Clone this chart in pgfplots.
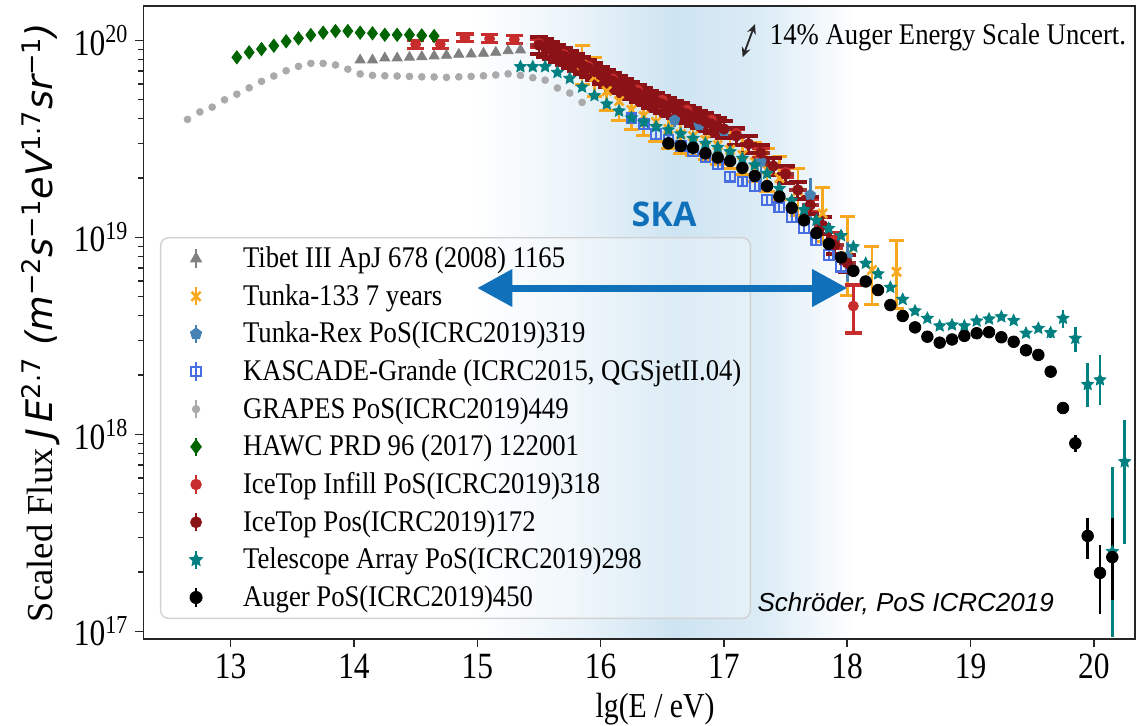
\documentclass[border=0pt]{standalone}
\usepackage{fontspec}
\setmainfont{Liberation Serif}
\newfontfamily\tickfont{Liberation Serif}[FakeStretch=0.85]
\newfontfamily\legfont{Liberation Serif}[FakeStretch=0.89]
\newfontfamily\dejavu{DejaVu Sans}
\newfontfamily\helv{Liberation Sans}
\newfontfamily\opensans{Open Sans}
\usepackage{pgfplots}
\usepackage{pgfplotstable}
\pgfplotsset{compat=1.18}
\usetikzlibrary{arrows.meta}

\definecolor{tibet}{RGB}{128,128,128}
\definecolor{tunka}{RGB}{247,168,30}
\definecolor{tunkarex}{RGB}{70,130,180}
\definecolor{kascade}{RGB}{72,110,225}
\definecolor{grapes}{RGB}{170,170,170}
\definecolor{hawc}{RGB}{0,100,0}
\definecolor{infill}{RGB}{200,45,45}
\definecolor{icetop}{RGB}{139,18,22}
\definecolor{ta}{RGB}{0,128,128}
\definecolor{skablue}{RGB}{16,112,186}
\definecolor{shade}{RGB}{206,228,242}

\pgfdeclareplotmark{fstar}{%
  \pgfpathmoveto{\pgfqpointpolar{90}{\pgfplotmarksize}}%
  \pgfpathlineto{\pgfqpointpolar{126}{0.48\pgfplotmarksize}}%
  \pgfpathlineto{\pgfqpointpolar{162}{\pgfplotmarksize}}%
  \pgfpathlineto{\pgfqpointpolar{198}{0.48\pgfplotmarksize}}%
  \pgfpathlineto{\pgfqpointpolar{234}{\pgfplotmarksize}}%
  \pgfpathlineto{\pgfqpointpolar{270}{0.48\pgfplotmarksize}}%
  \pgfpathlineto{\pgfqpointpolar{306}{\pgfplotmarksize}}%
  \pgfpathlineto{\pgfqpointpolar{342}{0.48\pgfplotmarksize}}%
  \pgfpathlineto{\pgfqpointpolar{18}{\pgfplotmarksize}}%
  \pgfpathlineto{\pgfqpointpolar{54}{0.48\pgfplotmarksize}}%
  \pgfpathclose
  \pgfusepathqfillstroke
}

\pgfplotsset{
  errleg/.style={legend image code/.code={
      \path (0pt,-6pt) (26.7pt,6pt);
      \draw[##1,sharp corners,fill opacity=1,draw opacity=1,line width=1.2pt] (13.35pt,-4.6pt) -- (13.35pt,4.6pt);
      \draw[##1,sharp corners,fill opacity=1,draw opacity=1] plot coordinates {(13.35pt,0pt)};
  }},
}

\pgfplotstableread{
x y
15.50 9.46e19
15.55 9.19e19
15.60 8.93e19
15.65 8.62e19
15.70 8.32e19
15.75 8.04e19
15.80 7.76e19
15.85 7.50e19
15.90 7.23e19
15.95 6.95e19
16.00 6.67e19
16.05 6.44e19
16.10 6.21e19
16.15 6.00e19
16.20 5.79e19
16.25 5.60e19
16.30 5.40e19
16.35 5.21e19
16.40 5.04e19
16.45 4.89e19
16.50 4.75e19
16.55 4.61e19
16.60 4.48e19
16.65 4.35e19
16.70 4.23e19
16.75 4.10e19
16.80 3.99e19
16.85 3.87e19
16.90 3.76e19
16.95 3.65e19
17.00 3.55e19
17.10 3.27e19
17.20 2.98e19
17.30 2.68e19
17.40 2.30e19
17.50 2.09e19
17.60 1.74e19
17.70 1.46e19
17.80 1.15e19
17.90 9.14e18
18.00 7.41e18
}\icetoptab

\begin{document}
\begin{tikzpicture}
\begin{axis}[
  set layers,
  scale only axis,
  width=495.75pt, height=316.5pt,
  xmin=12.293, xmax=20.334,
  ymode=log, ymin=9.14e16, ymax=1.494e20,
  xtick={13,14,15,16,17,18,19,20},
  xticklabels={13,14,15,16,17,18,19,20},
  ytick={1e17,1e18,1e19,1e20},
  yticklabels={10\textsuperscript{17},10\textsuperscript{18},10\textsuperscript{19},10\textsuperscript{20}},
  minor ytick={2e17,3e17,4e17,5e17,6e17,7e17,8e17,9e17,2e18,3e18,4e18,5e18,6e18,7e18,8e18,9e18,2e19,3e19,4e19,5e19,6e19,7e19,8e19,9e19},
  tick pos=left,
  tick align=outside,
  major tick length=4pt, minor tick length=2.5pt,
  tick style={black!85, line width=0.75pt},
  axis line style={black!85, line width=0.9pt},
  tick label style={font=\tickfont\fontsize{18.5}{20}\selectfont},
  xlabel={lg(E / eV)},
  xlabel style={font=\tickfont\fontsize{17.5}{20}\selectfont, at={(ticklabel cs:0.516)}},
  ylabel={Scaled Flux {\dejavu\itshape J\,E\textsuperscript{\upshape 2.7} (m\textsuperscript{\upshape −2}s\textsuperscript{\upshape −1}eV\textsuperscript{\upshape 1.7}sr\textsuperscript{\upshape −1})}},
  ylabel style={font=\fontsize{18.3}{20}\selectfont},
  legend cell align=left,
  legend style={
    at={(rel axis cs:0.0166,0.635)}, anchor=north west,
    draw=black!18, line width=0.7pt,
    fill=white, fill opacity=0.3, text opacity=1, draw opacity=1,
    rounded corners=4pt,
    inner xsep=4pt, inner ysep=4pt,
    nodes={inner sep=0.5pt},
    column sep=9.3pt, row sep=5.9pt,
    font=\legfont\fontsize{15}{17}\selectfont,
  },
]

\begin{pgfonlayer}{axis background}
\fill[left color=white, right color=shade, middle color=shade!40] (axis cs:14.94,9.14e16) rectangle (axis cs:16.6,1.494e20);
\fill[left color=shade, right color=white, middle color=shade!70] (axis cs:16.6,9.14e16) rectangle (axis cs:18.06,1.494e20);
\end{pgfonlayer}

% Tibet III
\addplot[only marks, color=tibet, mark=triangle*, mark size=2.9pt, errleg] table {
x y
14.05 7.94e19
14.15 7.94e19
14.25 8.13e19
14.35 8.13e19
14.45 8.20e19
14.55 8.26e19
14.65 8.32e19
14.75 8.39e19
14.85 8.49e19
14.95 8.51e19
15.05 8.59e19
15.15 8.69e19
15.25 8.85e19
15.35 8.93e19
};
\addlegendentry{Tibet III ApJ 678 (2008) 1165}

% Tunka-133
\addplot[only marks, color=tunka, mark=x, mark size=3.2pt, mark options={line width=1.3pt}, errleg,
  error bars/.cd, y dir=both, y explicit relative, error bar style={line width=1.3pt},
  error mark=-, error mark options={rotate=90, line width=1.5pt, mark size=3.8pt}]
  table[x=x, y=y, y error plus=ep, y error minus=em] {
x y ep em
15.85 7.50e19 0.26 0.20
15.95 6.51e19 0.26 0.20
16.05 5.53e19 0.26 0.20
16.15 4.92e19 0.26 0.20
16.25 4.43e19 0.26 0.20
16.35 4.13e19 0.26 0.20
16.45 3.85e19 0.26 0.20
16.55 3.55e19 0.26 0.20
16.65 3.34e19 0.26 0.20
16.75 3.27e19 0.26 0.20
16.85 3.12e19 0.26 0.20
16.95 2.94e19 0.26 0.20
17.05 2.78e19 0.26 0.20
17.15 2.62e19 0.26 0.20
17.25 2.41e19 0.26 0.20
17.35 2.20e19 0.28 0.22
17.45 2.00e19 0.28 0.22
17.60 1.72e19 0.30 0.25
17.80 1.32e19 0.35 0.28
18.00 8.04e18 0.58 0.37
18.20 6.82e18 0.32 0.33
18.40 6.68e18 0.45 0.35
};
\addlegendentry{Tunka-133 7 years}

% Tunka-Rex
\addplot[only marks, color=tunkarex, mark=pentagon*, mark size=2.8pt, errleg,
  error bars/.cd, y dir=both, y explicit, error bar style={line width=1.3pt}, error mark=none]
  table[x=x, y=y, y error plus=ep, y error minus=em] {
x y ep em
16.60 3.94e19 3.0e18 3.0e18
16.80 3.72e19 3.0e18 3.0e18
17.00 3.47e19 3.0e18 3.0e18
17.30 2.42e19 5.8e18 6.8e18
17.70 1.64e19 3.6e18 4.2e18
18.00 7.96e18 1.5e18 2.0e18
};
\addlegendentry{Tunka-Rex PoS(ICRC2019)319}

% KASCADE-Grande
\addplot[only marks, color=kascade, mark=square, mark size=2.4pt, mark options={line width=1.1pt}, errleg,
  error bars/.cd, y dir=both, y fixed relative=0.06, error bar style={line width=1.1pt}, error mark=none]
  table {
x y
16.25 4.02e19
16.35 3.76e19
16.45 3.34e19
16.55 3.12e19
16.65 2.91e19
16.75 2.74e19
16.85 2.56e19
16.95 2.36e19
17.05 2.03e19
17.15 1.92e19
17.25 1.82e19
17.35 1.55e19
17.45 1.42e19
17.55 1.27e19
17.65 1.11e19
17.75 9.68e18
17.85 8.13e18
17.95 7.10e18
};
\addlegendentry{KASCADE-Grande (ICRC2015, QGSjetII.04)}

% GRAPES
\addplot[only marks, color=grapes, mark=*, mark size=1.7pt, errleg] table {
x y
12.65 3.97e19
12.75 4.33e19
12.85 4.58e19
12.95 4.99e19
13.05 5.33e19
13.15 5.74e19
13.25 6.19e19
13.35 6.59e19
13.45 7.01e19
13.55 7.38e19
13.65 7.64e19
13.75 7.64e19
13.85 7.50e19
13.95 7.14e19
14.05 6.75e19
14.15 6.64e19
14.25 6.61e19
14.35 6.59e19
14.45 6.56e19
14.55 6.53e19
14.65 6.52e19
14.75 6.49e19
14.85 6.53e19
14.95 6.56e19
15.05 6.61e19
15.15 6.67e19
15.25 6.76e19
15.35 6.64e19
15.45 6.46e19
15.55 6.28e19
15.65 5.73e19
15.75 5.40e19
15.85 4.84e19
};
\addlegendentry{GRAPES PoS(ICRC2019)449}

% HAWC
\addplot[only marks, color=hawc, mark=diamond*, mark size=3.3pt, errleg] table {
x y
13.05 8.20e19
13.15 8.69e19
13.25 9.03e19
13.35 9.39e19
13.45 9.89e19
13.55 1.024e20
13.65 1.064e20
13.75 1.094e20
13.85 1.115e20
13.95 1.115e20
14.05 1.094e20
14.15 1.086e20
14.25 1.067e20
14.35 1.067e20
14.45 1.067e20
14.55 1.059e20
14.65 1.052e20
};
\addlegendentry{HAWC PRD 96 (2017) 122001}

% IceTop Infill
\addplot[only marks, color=infill, mark=*, mark size=2.5pt, errleg,
  error bars/.cd, y dir=both, y explicit relative, error bar style={line width=1.3pt},
  error mark=-, error mark options={rotate=90, line width=1.6pt, mark size=4.3pt}]
  table[x=x, y=y, y error plus=ep, y error minus=em] {
x y ep em
14.50 9.55e19 0.045 0.045
14.70 9.55e19 0.045 0.045
14.90 1.03e20 0.045 0.045
15.10 1.02e20 0.045 0.045
15.30 1.01e20 0.045 0.045
15.50 9.66e19 0.045 0.045
15.70 8.51e19 0.05 0.05
15.90 7.41e19 0.05 0.05
16.10 6.37e19 0.05 0.05
16.30 5.60e19 0.05 0.05
16.50 4.98e19 0.05 0.05
16.70 4.43e19 0.05 0.05
16.90 3.94e19 0.05 0.05
17.10 3.38e19 0.05 0.05
17.30 2.68e19 0.05 0.05
17.50 2.14e19 0.06 0.06
17.70 1.46e19 0.07 0.07
17.90 9.68e18 0.09 0.09
18.05 4.48e18 0.28 0.27
};
\addlegendentry{IceTop Infill PoS(ICRC2019)318}

% IceTop 172: horizontal bars
\addplot[forget plot, only marks, mark=none, color=icetop,
  error bars/.cd, x dir=both, x fixed=0.07, error bar style={line width=2.2pt, opacity=0.85}, error mark=none]
  table {\icetoptab};
% IceTop 172: markers and vertical bars
\addplot[only marks, color=icetop, mark=*, mark size=2.6pt, errleg,
  error bars/.cd, y dir=both, y fixed relative=0.1, error bar style={line width=1.4pt},
  error mark=-, error mark options={rotate=90, line width=2pt, mark size=4.5pt}]
  table {\icetoptab};
\addlegendentry{IceTop Pos(ICRC2019)172}

% Telescope Array
\addplot[only marks, color=ta, mark=fstar, mark size=3.1pt, errleg,
  error bars/.cd, y dir=both, y explicit, error bar style={line width=1.3pt}, error mark=none]
  table[x=x, y=y, y error plus=ep, y error minus=em] {
x y ep em
15.35 7.35e19 0 0
15.45 7.35e19 0 0
15.55 7.35e19 0 0
15.65 6.87e19 0 0
15.75 6.41e19 0 0
15.85 5.79e19 0 0
15.95 5.24e19 0 0
16.05 4.75e19 0 0
16.15 4.38e19 0 0
16.25 4.04e19 0 0
16.35 3.85e19 0 0
16.45 3.65e19 0 0
16.55 3.51e19 0 0
16.65 3.35e19 0 0
16.75 3.18e19 0 0
16.85 3.00e19 0 0
16.95 2.86e19 0 0
17.05 2.72e19 0 0
17.15 2.52e19 0 0
17.25 2.33e19 0 0
17.35 2.11e19 0 0
17.45 1.77e19 0 0
17.55 1.54e19 0 0
17.65 1.38e19 0 0
17.75 1.22e19 0 0
17.85 1.11e19 0 0
17.95 1.02e19 0 0
18.05 8.95e18 0 0
18.15 7.38e18 0 0
18.25 6.52e18 0 0
18.35 5.57e18 0 0
18.45 4.84e18 0 0
18.55 4.23e18 0 0
18.65 3.88e18 0 0
18.75 3.55e18 0 0
18.85 3.59e18 0 0
18.95 3.55e18 0 0
19.05 3.76e18 0 0
19.15 3.85e18 0 0
19.25 3.95e18 0 0
19.35 3.78e18 1.2e17 1.2e17
19.45 3.26e18 1.2e17 1.2e17
19.55 3.45e18 1.5e17 1.5e17
19.65 3.28e18 1.8e17 1.8e17
19.75 3.88e18 3.9e17 4.2e17
19.85 3.07e18 4.5e17 4.5e17
19.95 1.79e18 5.2e17 4.1e17
20.05 1.89e18 6.4e17 4.8e17
20.15 2.54e17 4.3e17 1.6e17
20.25 7.26e17 4.5e17 4.5e17
};
\addlegendentry{Telescope Array PoS(ICRC2019)298}

% Auger
\addplot[only marks, color=black, mark=*, mark size=2.9pt, errleg,
  error bars/.cd, y dir=both, y explicit, error bar style={line width=1.3pt}, error mark=none]
  table[x=x, y=y, y error plus=ep, y error minus=em] {
x y ep em
16.55 3.00e19 0 0
16.65 2.91e19 0 0
16.75 2.85e19 0 0
16.85 2.67e19 0 0
16.95 2.54e19 0 0
17.05 2.44e19 0 0
17.15 2.25e19 0 0
17.25 2.05e19 0 0
17.35 1.82e19 0 0
17.45 1.61e19 0 0
17.55 1.41e19 0 0
17.65 1.22e19 0 0
17.75 1.05e19 0 0
17.85 9.27e18 0 0
17.95 7.91e18 0 0
18.05 6.76e18 0 0
18.15 5.97e18 0 0
18.25 5.40e18 0 0
18.35 4.53e18 0 0
18.45 3.99e18 0 0
18.55 3.49e18 0 0
18.65 3.13e18 0 0
18.75 2.92e18 0 0
18.85 3.03e18 0 0
18.95 3.16e18 0 0
19.05 3.26e18 0 0
19.15 3.30e18 0 0
19.25 3.11e18 0 0
19.35 2.95e18 0 0
19.45 2.67e18 0 0
19.55 2.53e18 0 0
19.65 2.08e18 6e16 6e16
19.75 1.36e18 6e16 6e16
19.85 9.0e17 9e16 9e16
19.95 3.05e17 7.0e16 7.3e16
20.05 1.98e17 7.6e16 7.6e16
20.15 2.38e17 1.37e17 9.4e16
};
\addlegendentry{Auger PoS(ICRC2019)450}

\begin{pgfonlayer}{axis foreground}
\draw[skablue, line width=3.5pt, {Triangle[length=17.5pt,width=18pt]}-{Triangle[length=17.5pt,width=18pt]}]
  (axis cs:15.0,5.53e18) -- (axis cs:18.0,5.53e18);
\node[skablue, font=\opensans\bfseries\fontsize{17}{20}\selectfont] at (axis cs:16.515,1.31e19) {SKA};
\draw[black!85, line width=0.9pt, {Stealth[length=5pt,width=4.5pt]}-{Stealth[length=5pt,width=4.5pt]}]
  (axis cs:17.152,8.2e19) -- (axis cs:17.252,1.21e20);
\node[anchor=west, inner sep=0pt, font=\legfont\fontsize{15}{17}\selectfont] at (axis cs:17.37,1.03e20) {14\% Auger Energy Scale Uncert.};
\node[anchor=west, inner sep=0pt, font=\helv\itshape\fontsize{13}{15}\selectfont] at (axis cs:17.27,1.38e17) {Schröder, PoS ICRC2019};
\end{pgfonlayer}
\end{axis}
\pgfresetboundingbox
\path[use as bounding box] ([xshift=-71.75pt,yshift=-43pt]current axis.south west) rectangle ++(568pt,362.5pt);
\end{tikzpicture}
\end{document}
